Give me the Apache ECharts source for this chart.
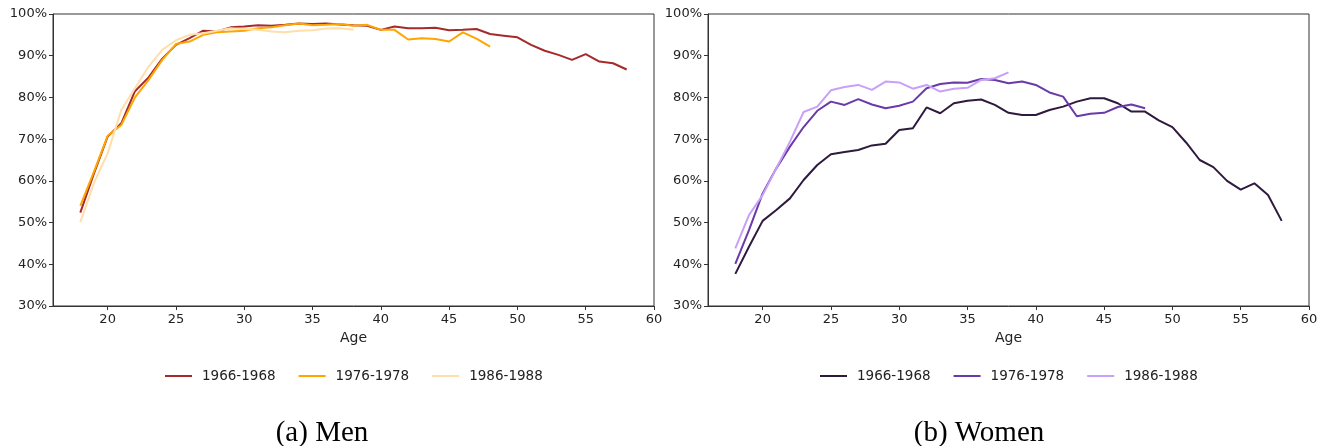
<!DOCTYPE html>
<html>
<head>
<meta charset="utf-8">
<script src="https://cdn.jsdelivr.net/npm/echarts@6/dist/echarts.min.js"></script>
<style>
  html, body { margin: 0; padding: 0; background: #fff; }
  #chart { width: 1325px; height: 446px; }
</style>
</head>
<body>
<div id="chart"></div>
<script>
// ages 18..58
const ages = [18, 19, 20, 21, 22, 23, 24, 25, 26, 27, 28, 29, 30, 31, 32, 33, 34, 35, 36, 37, 38,
  39, 40, 41, 42, 43, 44, 45, 46, 47, 48, 49, 50, 51, 52, 53, 54, 55, 56, 57, 58]
const cohorts = ['1966-1968', '1976-1978', '1986-1988']
const xTicks = [20, 25, 30, 35, 40, 45, 50, 55, 60]

// men, employment share (%) by age
const men6668 = [52.4, 61.8, 70.6, 73.8, 81.5, 84.8, 89.3, 92.6, 94.2, 96.0, 95.8, 96.8, 97.0, 97.3, 97.2, 97.4, 97.7, 97.6, 97.7, 97.5, 97.3,
  97.2, 96.2, 97.0, 96.6, 96.6, 96.7, 96.1, 96.2, 96.4, 95.2, 94.8, 94.4, 92.6, 91.2, 90.2, 89.0, 90.4, 88.6, 88.2, 86.7]
const men7678 = [54.0, 62.2, 70.8, 73.4, 80.0, 84.2, 89.0, 92.8, 93.4, 95.0, 95.6, 95.8, 96.0, 96.6, 96.8, 97.3, 97.7, 97.3, 97.4, 97.6, 97.2,
  97.4, 96.2, 96.2, 93.9, 94.2, 94.0, 93.4, 95.6, 94.1, 92.2]
const men8688 = [50.1, 59.5, 66.6, 77.0, 82.2, 87.4, 91.4, 93.7, 95.0, 95.4, 96.0, 96.6, 96.4, 96.2, 95.8, 95.6, 96.0, 96.1, 96.5, 96.6, 96.2]

// women
const women6668 = [37.7, 44.2, 50.4, 53.0, 55.8, 60.2, 63.8, 66.4, 66.9, 67.4, 68.5, 68.9, 72.2, 72.6, 77.6, 76.2, 78.6, 79.2, 79.5, 78.2, 76.3,
  75.8, 75.8, 77.0, 77.8, 79.0, 79.8, 79.8, 78.6, 76.6, 76.6, 74.5, 72.9, 69.2, 65.0, 63.3, 60.0, 57.9, 59.4, 56.6, 50.4]
const women7678 = [40.1, 48.2, 57.0, 63.0, 68.2, 72.9, 76.8, 79.0, 78.2, 79.6, 78.3, 77.4, 78.0, 79.0, 82.2, 83.2, 83.6, 83.5, 84.4, 84.2, 83.4,
  83.8, 83.0, 81.2, 80.2, 75.5, 76.1, 76.3, 77.7, 78.3, 77.4]
const women8688 = [43.8, 51.8, 56.6, 63.0, 69.4, 76.5, 77.8, 81.7, 82.5, 83.0, 81.8, 83.8, 83.6, 82.1, 83.0, 81.4, 82.1, 82.3, 84.2, 84.6, 86.0]

const menColors = ['#a52a2a', '#ffa500', '#ffdeaa']
const womenColors = ['#2e1a3e', '#6a3aa8', '#c8a0fa']

const pair = vals => vals.map((v, i) => [ages[i], v])

const chart = echarts.init(document.getElementById('chart'), null, { renderer: 'canvas' })

const font = 'DejaVu Sans'
const makeX = (idx) => ({
  type: 'value', gridIndex: idx, min: 16, max: 60,
  name: 'Age', nameLocation: 'middle', nameGap: 22,
  nameTextStyle: { fontFamily: font, fontSize: 14, color: '#222' },
  axisLine: { show: true, lineStyle: { color: '#333' } },
  axisTick: { show: true, length: 4, lineStyle: { color: '#333' }, customValues: xTicks },
  axisLabel: { fontFamily: font, fontSize: 13, color: '#222', margin: 7, customValues: xTicks },
  splitLine: { show: false }
})
const makeY = (idx) => ({
  type: 'value', gridIndex: idx, min: 30, max: 100, interval: 10,
  axisLine: { show: true, lineStyle: { color: '#333' } },
  axisTick: { show: true, length: 4, lineStyle: { color: '#333' } },
  axisLabel: { fontFamily: font, fontSize: 13, color: '#222', margin: 6, formatter: '{value}%' },
  splitLine: { show: false }
})

const makeSeries = (name, data, color, idx, z) => ({
  name: name, type: 'line', xAxisIndex: idx, yAxisIndex: idx,
  data: pair(data), showSymbol: false, symbol: 'none',
  lineStyle: { color: color, width: 2 }, itemStyle: { color: color },
  z: z, animation: false
})

const legendBase = {
  icon: 'rect', itemWidth: 27, itemHeight: 2, itemGap: 23, top: 369, padding: 0,
  textStyle: { fontFamily: font, fontSize: 13.5, color: '#222', padding: [0, 0, 0, 5] }
}

const captionStyle = { fontFamily: 'Liberation Serif', fontSize: 29, fontWeight: 'normal', color: '#000' }

chart.setOption({
  animation: false,
  grid: [
    { left: 53, top: 14, width: 601, height: 292, show: true, borderColor: '#333', borderWidth: 1 },
    { left: 708, top: 14, width: 601, height: 292, show: true, borderColor: '#333', borderWidth: 1 }
  ],
  xAxis: [makeX(0), makeX(1)],
  yAxis: [makeY(0), makeY(1)],
  legend: [
    Object.assign({ left: 165, data: cohorts.map(c => 'm' + c),
      formatter: n => n.slice(1) }, legendBase),
    Object.assign({ left: 820, data: cohorts.map(c => 'w' + c),
      formatter: n => n.slice(1) }, legendBase)
  ],
  title: [
    { text: '(a) Men', left: 322, top: 419, textAlign: 'center', padding: 0, textStyle: captionStyle },
    { text: '(b) Women', left: 979, top: 419, textAlign: 'center', padding: 0, textStyle: captionStyle }
  ],
  series: [
    makeSeries('m' + cohorts[0], men6668, menColors[0], 0, 3),
    makeSeries('m' + cohorts[1], men7678, menColors[1], 0, 4),
    makeSeries('m' + cohorts[2], men8688, menColors[2], 0, 5),
    makeSeries('w' + cohorts[0], women6668, womenColors[0], 1, 3),
    makeSeries('w' + cohorts[1], women7678, womenColors[1], 1, 4),
    makeSeries('w' + cohorts[2], women8688, womenColors[2], 1, 5)
  ]
})
</script>
</body>
</html>
